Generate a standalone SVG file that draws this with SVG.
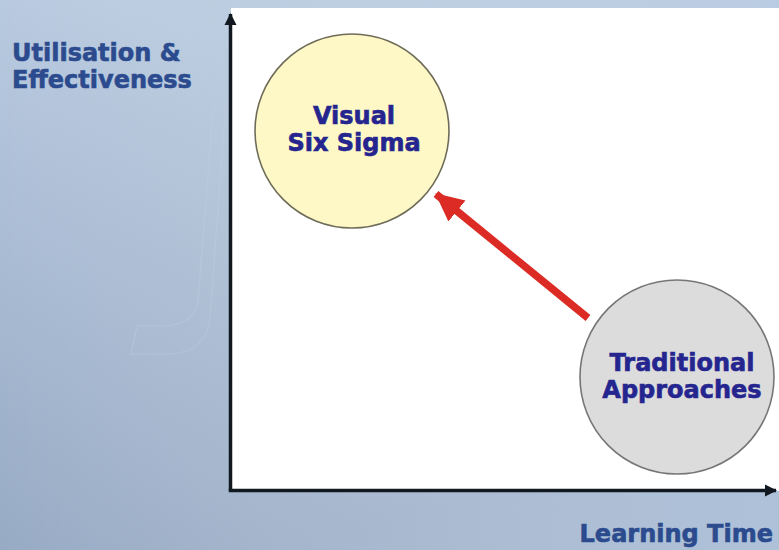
<svg xmlns="http://www.w3.org/2000/svg" width="779" height="550" viewBox="0 0 779 550">
  <defs>
    <linearGradient id="bg" x1="0" y1="0" x2="0.35" y2="1">
      <stop offset="0" stop-color="#b8cae0"/>
      <stop offset="1" stop-color="#93a7c1"/>
    </linearGradient>
    <linearGradient id="bgRight" x1="0" y1="0" x2="1" y2="0">
      <stop offset="0" stop-color="#ffffff" stop-opacity="0"/>
      <stop offset="1" stop-color="#c4d6ec" stop-opacity="0.55"/>
    </linearGradient>
    <marker id="axisHead" markerUnits="userSpaceOnUse" markerWidth="14" markerHeight="14" refX="11" refY="7" orient="auto">
      <path d="M0,1 L12,7 L0,13 Z" fill="#111820"/>
    </marker>
    <marker id="redHead" markerUnits="userSpaceOnUse" markerWidth="30" markerHeight="30" refX="27" refY="15" orient="auto">
      <path d="M0,1.5 L28,15 L0,28.5 Z" fill="#db2b24"/>
    </marker>
    <style>
      .node-text { font-family: "DejaVu Sans", Verdana, sans-serif; font-weight: bold; font-size: 24px; fill: #25258f; stroke: #25258f; stroke-width: 0.6; text-anchor: middle; }
      .axis-label { font-family: "DejaVu Sans", Verdana, sans-serif; font-weight: bold; font-size: 24px; fill: #2b4b8e; stroke: #2b4b8e; stroke-width: 0.6; }
      .axis { stroke: #111820; stroke-width: 3.5; fill: none; }
      .bubble { stroke-width: 1.6; }
    </style>
  </defs>

  <!-- backdrop -->
  <rect x="0" y="0" width="779" height="550" fill="url(#bg)"/>
  <rect x="0" y="0" width="779" height="550" fill="url(#bgRight)"/>

  <!-- faint decorative watermark stroke -->
  <path d="M226,100 L210,318 Q206,352 172,354 L131,354 L137,326 L160,326 Q196,326 198,300 L214,100"
        fill="none" stroke="#c3d2e5" stroke-opacity="0.3" stroke-width="1.5"/>

  <!-- plot panel -->
  <rect x="231" y="8" width="548" height="483" fill="#ffffff"/>

  <!-- axes -->
  <g id="axes">
    <path class="axis" d="M230.5,491 L230.5,14" marker-end="url(#axisHead)"/>
    <path class="axis" d="M228.8,490.5 L776,490.5" marker-end="url(#axisHead)"/>
  </g>

  <!-- axis labels -->
  <text class="axis-label" x="12" y="61">Utilisation &amp;</text>
  <text class="axis-label" x="12" y="88">Effectiveness</text>
  <text class="axis-label" x="773" y="542" text-anchor="end">Learning Time</text>

  <!-- connectors -->
  <g id="connectors">
    <line x1="588" y1="318" x2="436" y2="194" stroke="#db2b24" stroke-width="7.5" marker-end="url(#redHead)"/>
  </g>

  <g id="visual-six-sigma">
    <circle class="bubble" cx="352" cy="131" r="97" fill="#fdf8c6" stroke="#6e6c58"/>
    <text class="node-text" x="354" y="124">Visual</text>
    <text class="node-text" x="354" y="151">Six Sigma</text>
  </g>

  <g id="traditional-approaches">
    <circle class="bubble" cx="677" cy="377" r="97" fill="#dcdcdc" stroke="#767676"/>
    <text class="node-text" x="682" y="371">Traditional</text>
    <text class="node-text" x="682" y="398">Approaches</text>
  </g>
</svg>
